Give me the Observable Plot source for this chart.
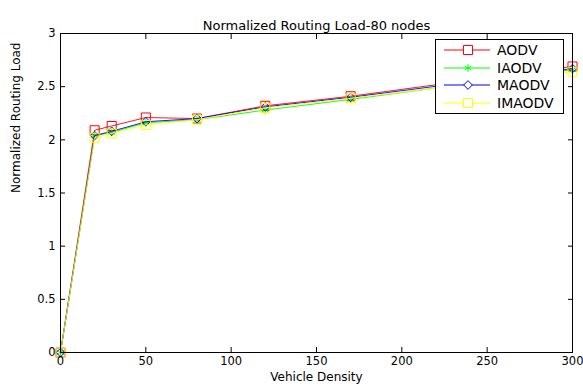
<!DOCTYPE html>
<html><head><meta charset="utf-8">
<script src="https://cdn.jsdelivr.net/npm/d3@7"></script>
<script src="https://cdn.jsdelivr.net/npm/@observablehq/plot@0.6"></script>
<style>
body{margin:0;background:#fff;font-family:"DejaVu Sans",sans-serif}
#wrap{position:relative;width:583px;height:387px;overflow:hidden}
#legend{position:absolute;left:435px;top:39px;width:129px;height:75px;border:1px solid #000;background:#fff;box-sizing:border-box}
#legend svg{display:block}
</style></head><body><div id="wrap"><div id="chart"></div><div id="legend"></div></div>
<script>
const title = "Normalized Routing Load-80 nodes";
const xLabel = "Vehicle Density";
const yLabel = "Normalized Routing Load";
const density = [0, 20, 30, 50, 80, 120, 170, 300];
const aodv   = [0, 2.09, 2.13, 2.21, 2.20, 2.32, 2.41, 2.69];
const iaodv  = [0, 2.04, 2.07, 2.16, 2.19, 2.28, 2.38, 2.66];
const maodv  = [0, 2.04, 2.08, 2.17, 2.20, 2.31, 2.40, 2.67];
const imaodv = [0, 2.02, 2.06, 2.14, 2.19, 2.30, 2.39, 2.64];
const seriesNames = ["AODV", "IAODV", "MAODV", "IMAODV"];
const seriesColors = ["#ff0000", "#00ff00", "#0000ff", "#ffff00"];
const seriesSymbols = ["square", "asterisk", "diamond2", "square"];
const seriesR = [5.1, 3.6, 3.9, 5.1];
const xTicks = [0, 50, 100, 150, 200, 250, 300];
const yTicks = [0, 0.5, 1, 1.5, 2, 2.5, 3];

const values = [aodv, iaodv, maodv, imaodv];
const rows = seriesNames.flatMap((name, i) => density.map((x, j) => ({series: name, x, y: values[i][j]})));

const seriesMarks = seriesNames.flatMap((name, i) => {
  const data = rows.filter(d => d.series === name);
  return [
    Plot.line(data, {x: "x", y: "y", stroke: seriesColors[i], strokeWidth: 0.9}),
    Plot.dot(data, {x: "x", y: "y", stroke: seriesColors[i], fill: "none", symbol: seriesSymbols[i], r: seriesR[i], strokeWidth: 1})
  ];
});

const fmt = d => String(d);

const chart = Plot.plot({
  width: 583, height: 387,
  marginLeft: 60, marginRight: 11, marginTop: 33, marginBottom: 35,
  style: {fontFamily: "DejaVu Sans, sans-serif", fontSize: "12px", color: "#000", background: "#fff"},
  x: {domain: [0, 300]},
  y: {domain: [0, 3]},
  marks: [
    ...seriesMarks,
    Plot.frame({stroke: "#000", strokeWidth: 1}),
    Plot.axisX(xTicks, {anchor: "bottom", tickSize: -5, tickPadding: 9, tickFormat: fmt, label: null, fontSize: 11.5, stroke: "#000", fill: "#000"}),
    Plot.axisX(xTicks, {anchor: "top", tickSize: -5, tickFormat: () => "", label: null, stroke: "#000"}),
    Plot.axisY(yTicks, {anchor: "left", tickSize: -5, tickPadding: 10, tickFormat: fmt, label: null, fontSize: 11.5, stroke: "#000", fill: "#000"}),
    Plot.axisY(yTicks, {anchor: "right", tickSize: -5, tickFormat: () => "", label: null, stroke: "#000"}),
    Plot.text([title], {frameAnchor: "top", dy: -13, fontSize: 13, fill: "#000"}),
    Plot.text([xLabel], {frameAnchor: "bottom", dy: 28, fontSize: 12, fill: "#000"}),
    Plot.text([yLabel], {frameAnchor: "left", dx: -44, rotate: -90, fontSize: 12, fill: "#000"})
  ]
});
document.getElementById("chart").appendChild(chart);

// legend
const lg = d3.select("#legend").append("svg").attr("width", 127).attr("height", 73);
const rowY = [10, 28, 45, 63];
const symMap = {square: d3.symbolSquare, asterisk: d3.symbolAsterisk, diamond2: d3.symbolDiamond2};
seriesNames.forEach((name, i) => {
  const g = lg.append("g").attr("transform", `translate(0,${rowY[i]})`);
  g.append("line").attr("x1", 8).attr("x2", 54).attr("y1", 0).attr("y2", 0).attr("stroke", seriesColors[i]).attr("stroke-width", 1);
  g.append("path").attr("transform", "translate(32,0)")
    .attr("d", d3.symbol(symMap[seriesSymbols[i]], seriesR[i] * seriesR[i] * Math.PI)())
    .attr("fill", "#fff").attr("stroke", seriesColors[i]).attr("stroke-width", 1);
  g.append("text").attr("x", 61).attr("y", 0).attr("dy", "0.36em").attr("font-size", 14)
    .attr("font-family", "DejaVu Sans, sans-serif").attr("fill", "#000").text(name);
});
</script>
</body></html>
